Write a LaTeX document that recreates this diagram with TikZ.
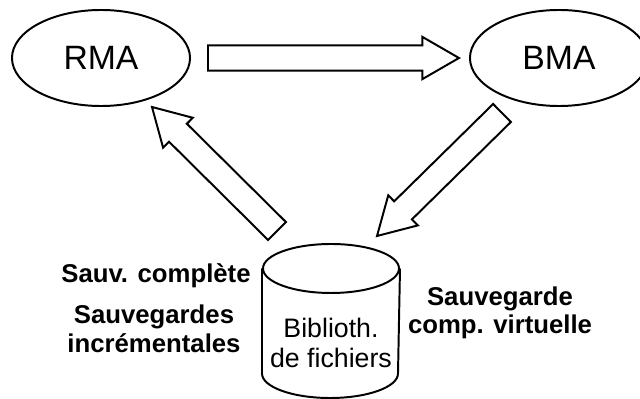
\documentclass[tikz,border=0pt]{standalone}
\usepackage{fontspec}
\setmainfont{Liberation Sans}
\usetikzlibrary{shapes.geometric,calc}

\begin{document}
\begin{tikzpicture}[x=0.025cm, y=-0.025cm, line width=1.4pt,
  agent/.style={ellipse, draw, minimum width=4.45cm, minimum height=2.4cm, inner sep=0pt, font=\fontsize{24}{28}\selectfont},
  store/.style={minimum width=3.4cm, minimum height=3.8cm, inner sep=0pt},
  lbl/.style={align=center, font=\fontsize{18.3}{20.6}\selectfont\bfseries},
  blockarr/.style={draw, fill=white, line join=miter}
]
  \useasboundingbox[fill=white] (0,0) rectangle (640,399);
  \node[agent] (rma) at (101,58) {RMA};
  \node[agent] (bma) at (559,58) {BMA};
  % file library drum
  \node[store] (lib) at (331,321) {};
  \draw ($(lib.north)+(0,24.5)$) ellipse[x radius=68, y radius=24.5];
  \draw ($(lib.north west)+(0,24.5)$) -- ($(lib.south west)+(0,-24.5)$)
    arc[start angle=180, end angle=0, x radius=68, y radius=24.5] -- ($(lib.north east)+(0,24.5)$);
  \node[align=center, font=\fontsize{19}{21.3}\selectfont] (libtxt) at (331,343) {Biblioth.\\de fichiers};
  \node[lbl] (full) at (156,276) {Sauv. complète};
  \node[lbl] (incr) at (154,329) {Sauvegardes\\incrémentales};
  \node[lbl, font=\fontsize{18.3}{19.9}\selectfont\bfseries] (virt) at (500,313) {Sauvegarde\\comp. virtuelle};
  % ends of the big arrows
  \coordinate (a1) at ($(rma.east)+(17,0)$);
  \coordinate (b1) at ($(bma.west)+(-10,0)$);
  \coordinate (a2) at ($(bma)+(-57,55)$);
  \coordinate (b2) at ($(lib.north)+(46,-8)$);
  \coordinate (a3) at ($(lib.north)+(-54,-13)$);
  \coordinate (b3) at ($(rma)+(51,49)$);
  \foreach \s/\t in {a1/b1, a2/b2, a3/b3}{
    \coordinate (h) at ($(\t)!26pt!(\s)$);
    \draw[blockarr] ($(\s)!9pt!90:(\t)$) -- ($(h)!9pt!90:(\t)$) -- ($(h)!15pt!90:(\t)$) -- (\t)
      -- ($(h)!15pt!-90:(\t)$) -- ($(h)!9pt!-90:(\t)$) -- ($(\s)!9pt!-90:(\t)$) -- cycle;
  }
\end{tikzpicture}
\end{document}
